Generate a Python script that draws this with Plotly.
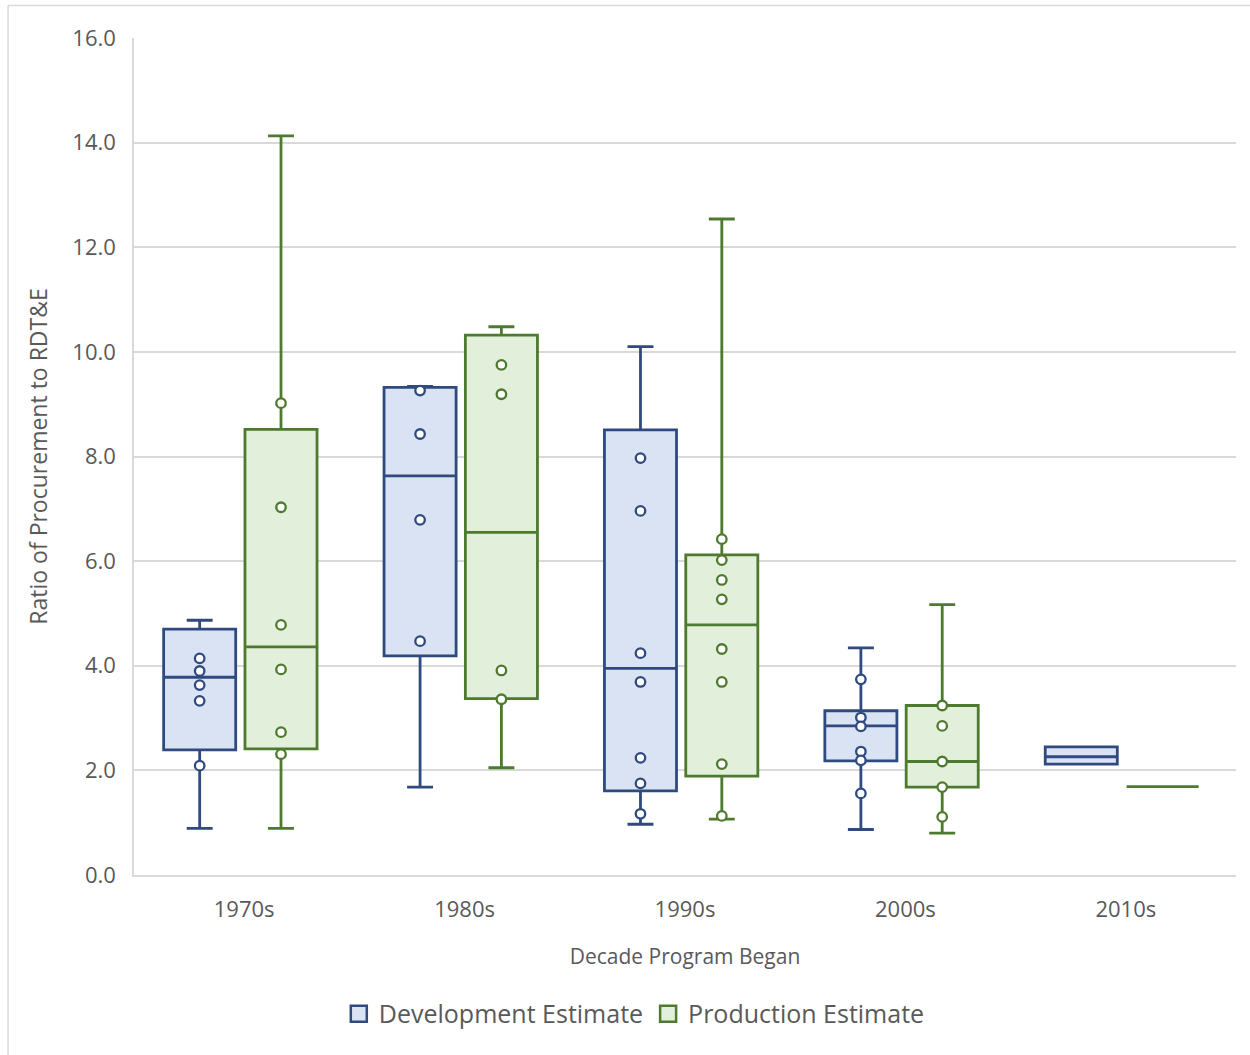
import plotly.graph_objects as go

# Decades on the x axis
decades = ["1970s", "1980s", "1990s", "2000s", "2010s"]

# Development estimate: box statistics per decade
dev_min = [0.89, 1.68, 0.97, 0.87, 2.12]
dev_q1 = [2.39, 4.19, 1.61, 2.18, 2.12]
dev_median = [3.78, 7.63, 3.95, 2.85, 2.26]
dev_q3 = [4.70, 9.32, 8.51, 3.14, 2.45]
dev_max = [4.87, 9.34, 10.10, 4.34, 2.45]
dev_points = [
    [4.14, 3.90, 3.63, 3.33, 2.09],
    [9.26, 8.43, 6.79, 4.47],
    [7.97, 6.96, 4.24, 3.69, 2.24, 1.75, 1.17],
    [3.74, 3.01, 2.84, 2.36, 2.19, 1.56],
    [],
]

# Production estimate: box statistics per decade
prod_min = [0.89, 2.05, 1.07, 0.80, 1.69]
prod_q1 = [2.41, 3.37, 1.89, 1.68, 1.69]
prod_median = [4.36, 6.55, 4.78, 2.17, 1.69]
prod_q3 = [8.52, 10.32, 6.12, 3.24, 1.69]
prod_max = [14.13, 10.48, 12.54, 5.17, 1.69]
prod_points = [
    [9.02, 7.03, 4.78, 3.93, 2.73, 2.31],
    [9.75, 9.19, 3.91, 3.36],
    [6.42, 6.02, 5.64, 5.27, 4.32, 3.69, 2.12, 1.13],
    [3.24, 2.85, 2.17, 1.68, 1.11],
    [],
]

y_ticks = [0, 2, 4, 6, 8, 10, 12, 14, 16]

DEV_LINE, DEV_FILL = "#2F4A7E", "#DAE3F3"
PROD_LINE, PROD_FILL = "#4E7A2F", "#E2EFDA"
TEXT = "#595959"
GRID = "#D9D9D9"

BOX_W = 0.327      # box width in axis units

series = [
    ("Development Estimate", -0.202, DEV_LINE, DEV_FILL,
     dev_min, dev_q1, dev_median, dev_q3, dev_max, dev_points),
    ("Production Estimate", 0.167, PROD_LINE, PROD_FILL,
     prod_min, prod_q1, prod_median, prod_q3, prod_max, prod_points),
]

fig = go.Figure()

for name, off, lc, fc, lo, q1, med, q3, hi, pts in series:
    pos = [i + off for i in range(len(decades))]
    fig.add_trace(go.Box(
        name=name, legendgroup=name, showlegend=False,
        x=pos, q1=q1, median=med, q3=q3, lowerfence=lo, upperfence=hi,
        width=BOX_W, whiskerwidth=0.36, boxpoints=False,
        fillcolor=fc, line=dict(color=lc, width=2.8),
        hoverinfo="y",
    ))
    px, py = [], []
    for p, vals in zip(pos, pts):
        px += [p] * len(vals)
        py += vals
    fig.add_trace(go.Scatter(
        x=px, y=py, mode="markers", legendgroup=name, showlegend=False,
        marker=dict(symbol="circle", size=9.5, color="white",
                    line=dict(color=lc, width=2.3)),
        hoverinfo="y",
    ))
    # legend entry: filled square with coloured outline
    fig.add_trace(go.Scatter(
        x=[None], y=[None], mode="markers", name=name, legendgroup=name,
        marker=dict(symbol="square", size=18, color=fc,
                    line=dict(color=lc, width=2.5)),
    ))

# Light frame around the chart area (top and left edges)
frame = dict(color="#D9D9D9", width=1.5)
fig.add_shape(type="line", xref="paper", yref="paper",
              x0=-0.1143, x1=1.02, y0=1.0388, y1=1.0388, line=frame)
fig.add_shape(type="line", xref="paper", yref="paper",
              x0=-0.1143, x1=-0.1143, y0=1.0388, y1=-0.23, line=frame)

fig.update_layout(
    width=1250, height=1055,
    margin=dict(l=134, r=14, t=38, b=180),
    plot_bgcolor="white", paper_bgcolor="white",
    boxmode="overlay",
    font=dict(family="Open Sans, Noto Sans, sans-serif", color=TEXT),
    showlegend=True,
    legend=dict(orientation="h", x=0.454, xanchor="center",
                y=-0.166, yanchor="middle", itemsizing="trace",
                font=dict(size=25, color=TEXT), itemclick=False),
    xaxis=dict(
        range=[-0.5, 4.5], tickmode="array",
        tickvals=list(range(len(decades))), ticktext=decades,
        showgrid=False, zeroline=False, ticks="",
        showline=True, linecolor=GRID, linewidth=1.5,
        tickfont=dict(size=22, color=TEXT), ticklabelstandoff=14,
        title=dict(text="Decade Program Began", font=dict(size=21, color=TEXT),
                   standoff=27),
    ),
    yaxis=dict(
        range=[0, 16], tickmode="array", tickvals=y_ticks, tickformat=".1f",
        showgrid=True, gridcolor=GRID, gridwidth=1.5, zeroline=False,
        showline=True, linecolor=GRID, linewidth=1.5, ticks="",
        tickfont=dict(size=22, color=TEXT), ticklabelstandoff=12,
        title=dict(text="Ratio of Procurement to RDT&E",
                   font=dict(size=23, color=TEXT), standoff=18),
    ),
)

fig.write_html("out.html")
